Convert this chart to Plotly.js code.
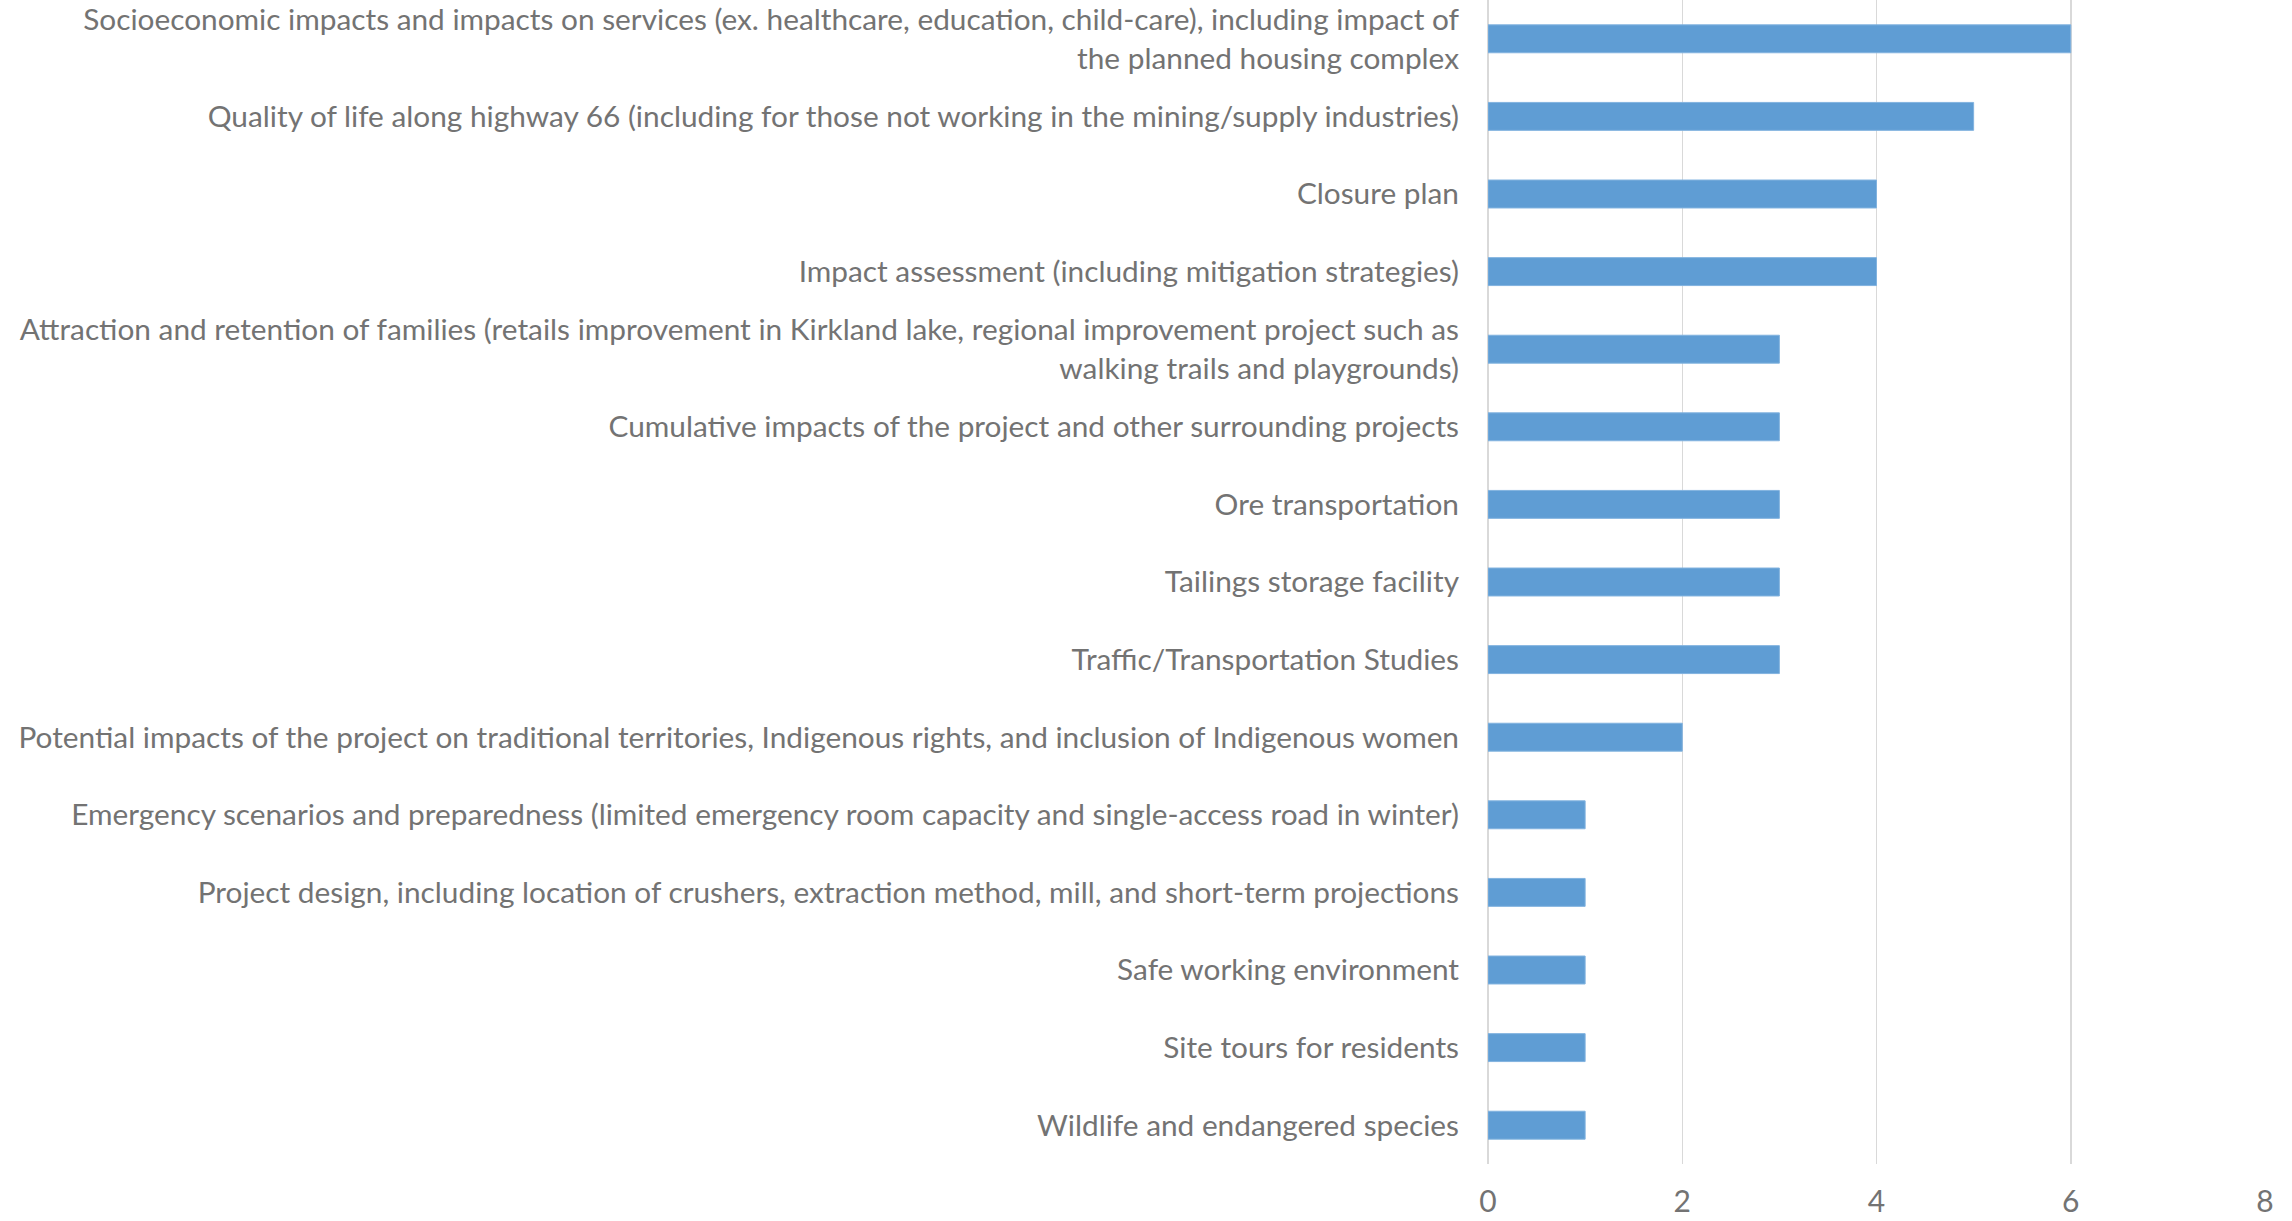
<!DOCTYPE html>
<html>
<head>
<meta charset="utf-8">
<script src="https://cdn.plot.ly/plotly-3.0.1.min.js"></script>
<style>
html,body{margin:0;padding:0;background:#fff;}
#chart{width:2292px;height:1221px;}
</style>
</head>
<body>
<div id="chart"></div>
<script>
const categories = [
  "Socioeconomic impacts and impacts on services (ex. healthcare, education, child-care), including impact of<br>the planned housing complex",
  "Quality of life along highway 66 (including for those not working in the mining/supply industries)",
  "Closure plan",
  "Impact assessment (including mitigation strategies)",
  "Attraction and retention of families (retails improvement in Kirkland lake, regional improvement project such as<br>walking trails and playgrounds)",
  "Cumulative impacts of the project and other surrounding projects",
  "Ore transportation",
  "Tailings storage facility",
  "Traffic/Transportation Studies",
  "Potential impacts of the project on traditional territories, Indigenous rights, and inclusion of Indigenous women",
  "Emergency scenarios and preparedness (limited emergency room capacity and single-access road in winter)",
  "Project design, including location of crushers, extraction method, mill, and short-term projections",
  "Safe working environment",
  "Site tours for residents",
  "Wildlife and endangered species"
];
const counts = [6, 5, 4, 4, 3, 3, 3, 3, 3, 2, 1, 1, 1, 1, 1];
const xTicks = [0, 2, 4, 6, 8];

const font = "Lato, 'Open Sans', sans-serif";

Plotly.newPlot('chart', [{
  type: 'bar',
  orientation: 'h',
  x: counts,
  y: categories,
  marker: {color: '#5F9DD4', line: {color: '#82b3df', width: 1}},
  hoverinfo: 'skip'
}], {
  width: 2292,
  height: 1221,
  margin: {l: 1488, r: 27, t: 0, b: 57, pad: 0},
  paper_bgcolor: '#ffffff',
  plot_bgcolor: '#ffffff',
  bargap: 0.64,
  showlegend: false,
  font: {family: font, size: 29.8, color: '#737373'},
  xaxis: {
    range: [0, 8],
    tickvals: xTicks,
    ticktext: xTicks.map(String),
    showgrid: true,
    gridcolor: '#d9d9d9',
    gridwidth: 1.5,
    zeroline: true,
    zerolinecolor: '#d9d9d9',
    zerolinewidth: 1.5,
    showline: false,
    ticks: '',
    ticklabelstandoff: 17,
    tickfont: {family: font, size: 30, color: '#737373'}
  },
  yaxis: {
    type: 'category',
    autorange: 'reversed',
    showgrid: false,
    zeroline: false,
    showline: false,
    ticks: '',
    ticklabelstandoff: 28,
    tickfont: {family: font, size: 29.8, color: '#737373'}
  }
}, {staticPlot: true, displayModeBar: false});
</script>
</body>
</html>
